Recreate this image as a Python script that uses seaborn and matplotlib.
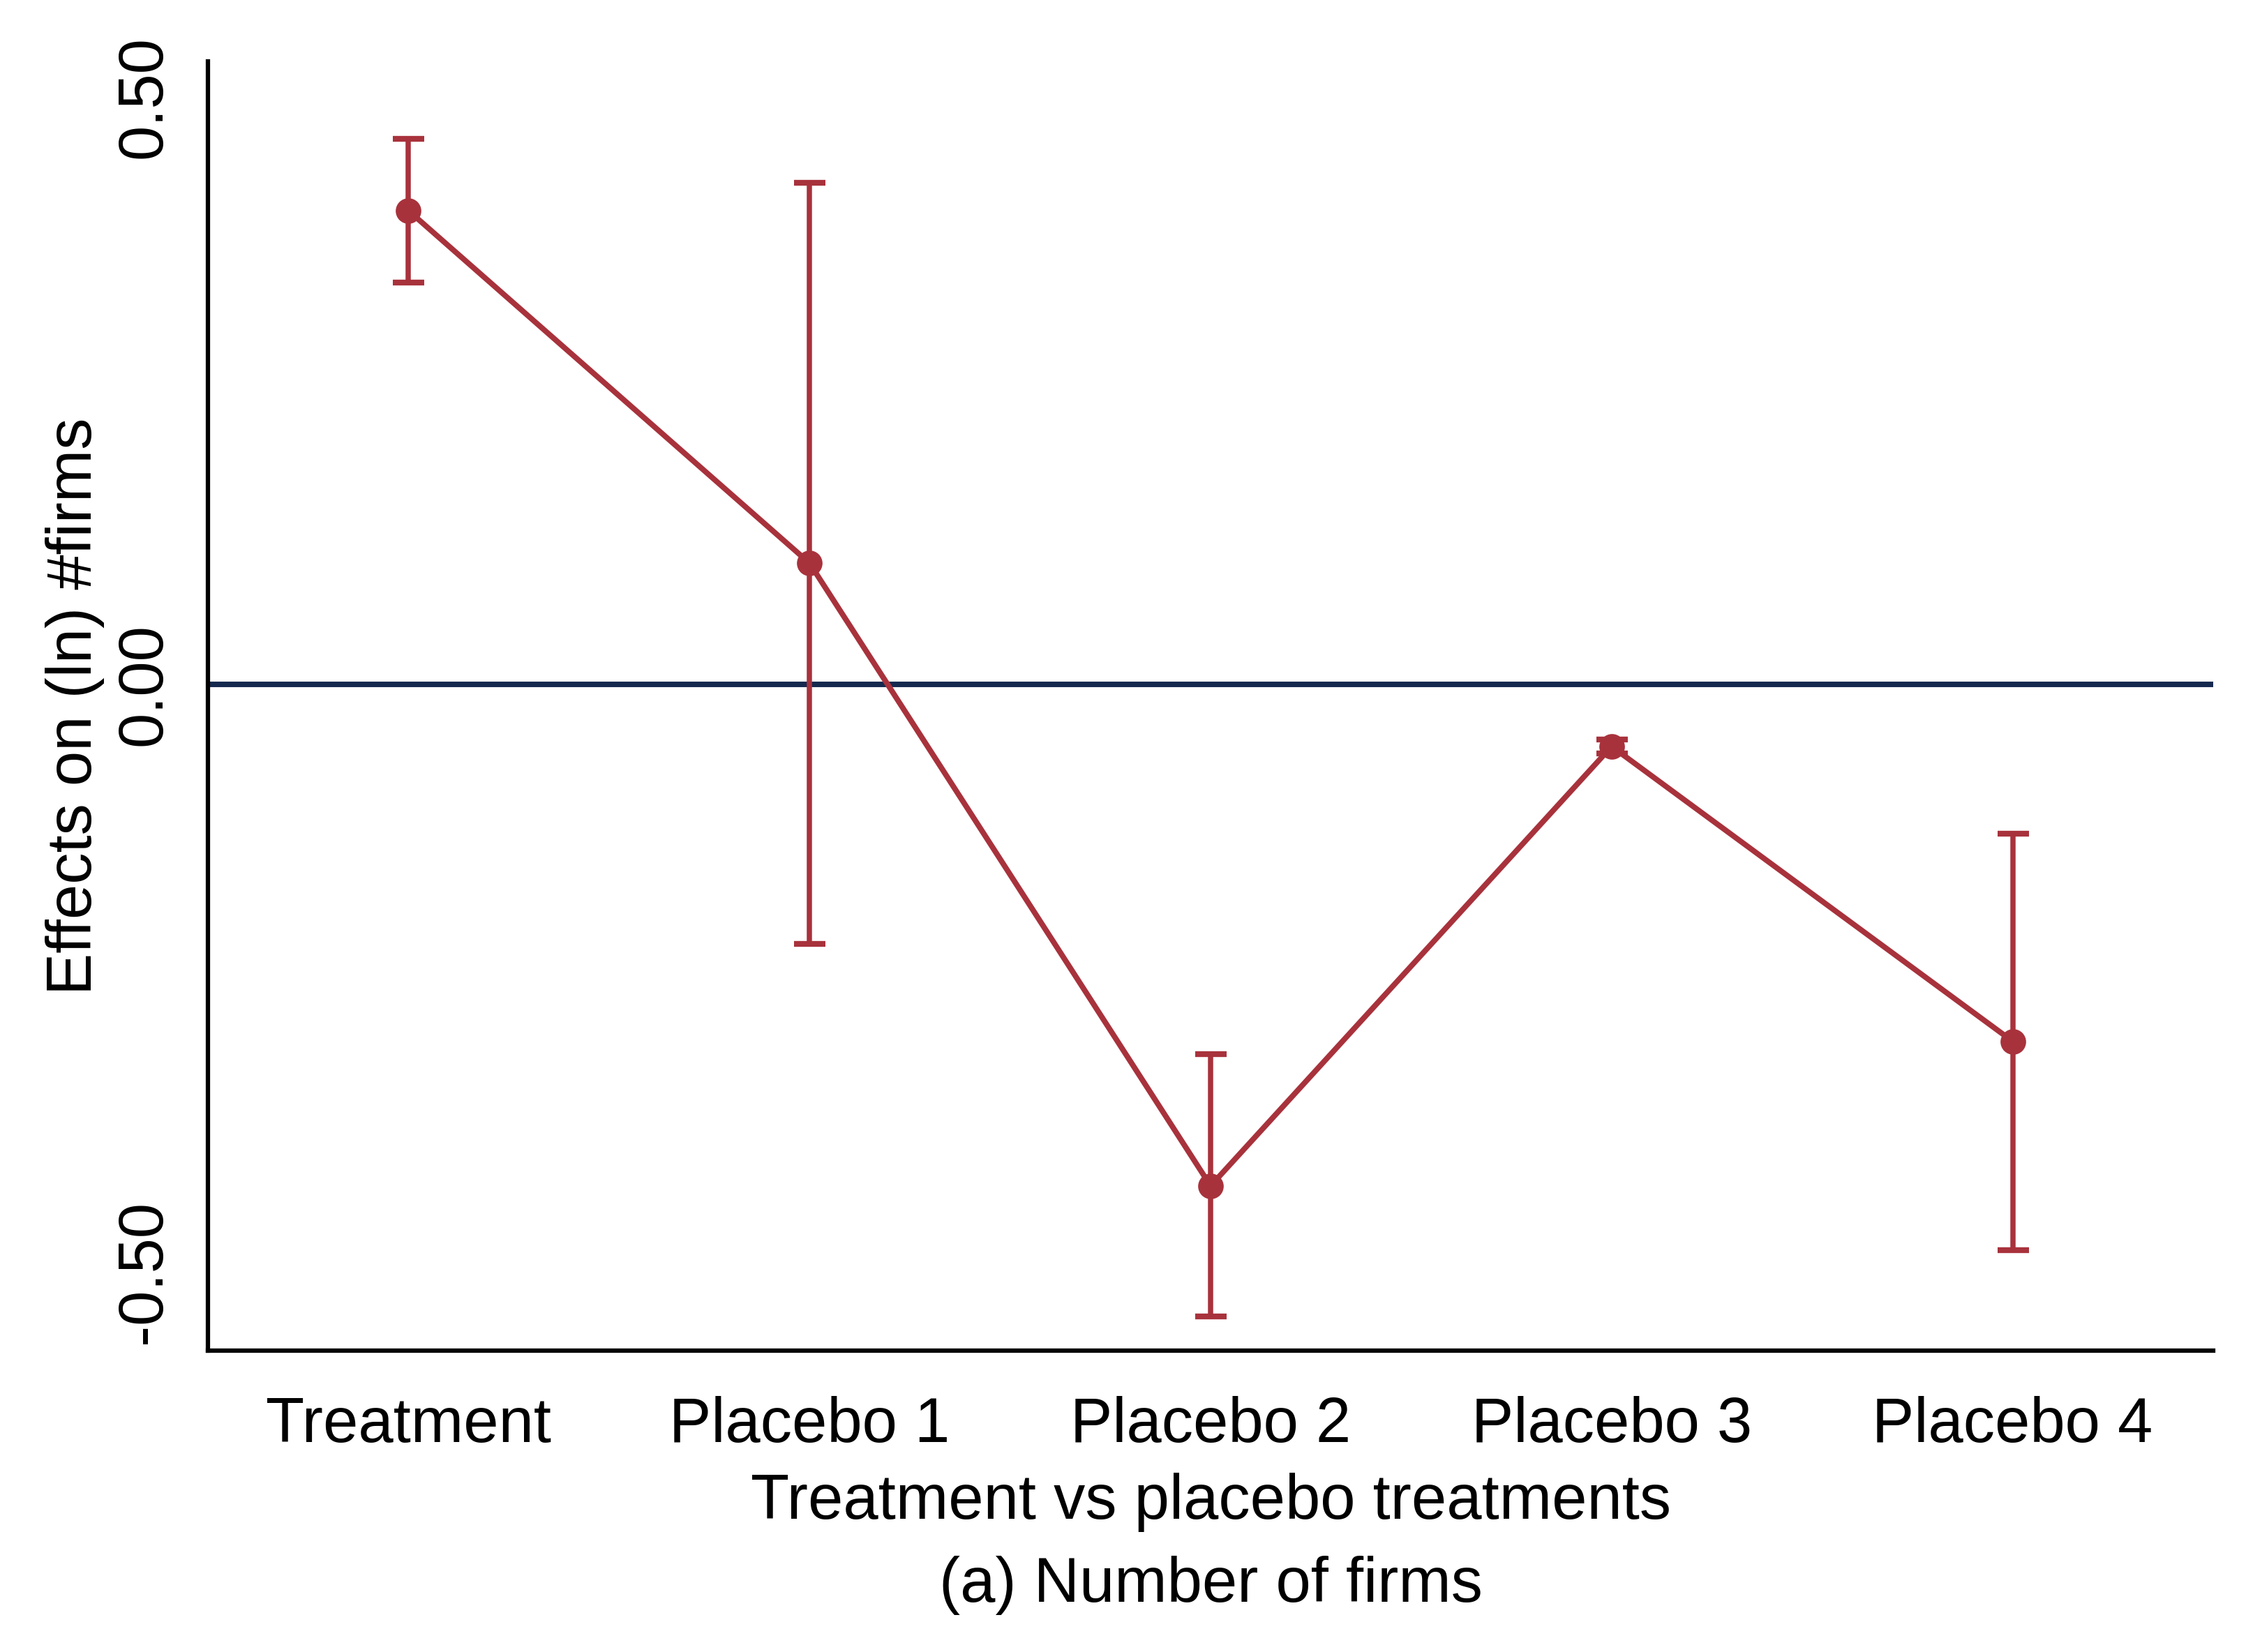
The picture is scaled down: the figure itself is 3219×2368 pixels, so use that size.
import matplotlib
matplotlib.use("Agg")
import pandas as pd
import matplotlib.pyplot as plt
import seaborn as sns

# Estimates and 95% CI
groups = ["Treatment", "Placebo 1", "Placebo 2", "Placebo 3", "Placebo 4"]
estimate = [0.403, 0.103, -0.427, -0.053, -0.304]
ci_low = [0.342, -0.221, -0.538, -0.059, -0.482]
ci_high = [0.464, 0.427, -0.315, -0.047, -0.127]
y_ticks = [-0.5, 0.0, 0.5]
y_ticklabels = ["-0.50", "0.00", "0.50"]

red = "#A8323C"
navy = "#15294F"
fs = 21.7

sns.set_theme(style="white")
plt.rcParams["font.family"] = ["Liberation Sans", "DejaVu Sans"]
plt.rcParams["text.color"] = "black"
plt.rcParams["axes.labelcolor"] = "black"

df = pd.DataFrame({"group": groups, "estimate": estimate, "lo": ci_low, "hi": ci_high})

fig = plt.figure(figsize=(3219 / 300, 2368 / 300), dpi=300)
ax = fig.add_axes([0.0926, 0.1826, 0.8928, 0.7802])

ax.axhline(0, color=navy, lw=1.9, zorder=1)

ax.errorbar(df["group"], df["estimate"],
            yerr=[df["estimate"] - df["lo"], df["hi"] - df["estimate"]],
            fmt="none", ecolor=red, elinewidth=1.8, capsize=5.4, capthick=2.0, zorder=2)
sns.lineplot(data=df, x="group", y="estimate", sort=False, color=red, lw=1.9,
             marker="o", markersize=8.8, markeredgewidth=0, ax=ax, zorder=3)

ax.set_xlim(-0.5, 4.5)
ax.set_ylim(-0.567, 0.530)
ax.set_yticks(y_ticks)
ax.set_yticklabels(y_ticklabels, rotation=90, va="center", fontsize=fs)
ax.tick_params(axis="x", labelsize=fs, length=7.7, width=1.1, pad=8, colors="black")
ax.tick_params(axis="y", length=7.7, width=1.1, pad=4, colors="black")

for s in ["top", "right"]:
    ax.spines[s].set_visible(False)
for s in ["left", "bottom"]:
    ax.spines[s].set_color("black")
    ax.spines[s].set_linewidth(1.5)

ax.set_xlabel("Treatment vs placebo treatments", fontsize=fs, color="black")
ax.set_ylabel("Effects on (ln) #firms", fontsize=fs, color="black")
ax.xaxis.set_label_coords(0.5, -0.0949)
ax.yaxis.set_label_coords(-0.0515, 0.5)

fig.text(0.539, 0.0304, "(a) Number of firms", ha="center", va="baseline",
         fontsize=fs, color="black")

fig.savefig("out.png", dpi=300)
